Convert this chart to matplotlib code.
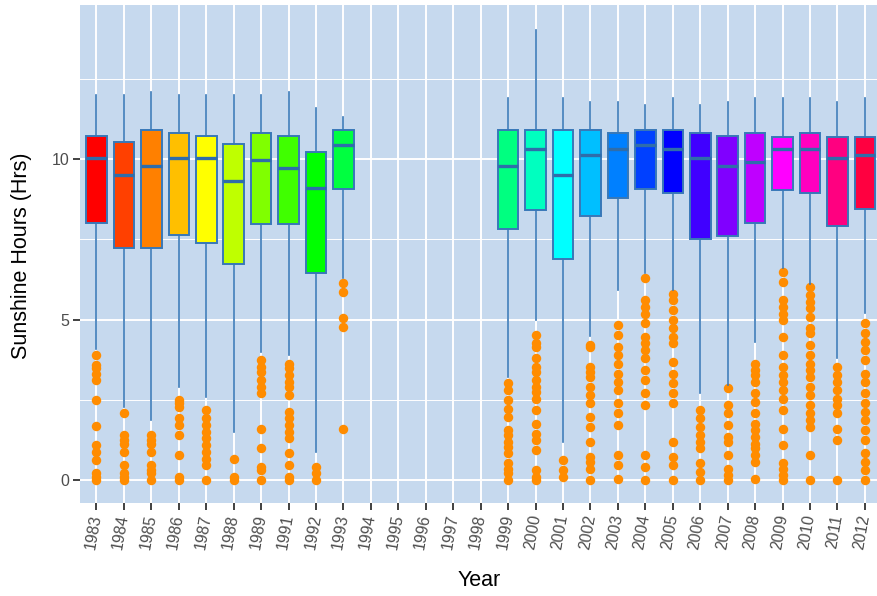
import matplotlib
matplotlib.use('Agg')
import matplotlib.pyplot as plt
import colorsys

plt.rcParams['font.family'] = ['Liberation Sans', 'DejaVu Sans']

# ---- data ----
years = ['1983', '1984', '1985', '1986', '1987', '1988', '1989', '1991', '1992', '1993',
         '1994', '1995', '1996', '1997', '1998', '1999', '2000', '2001', '2002', '2003',
         '2004', '2005', '2006', '2007', '2008', '2009', '2010', '2011', '2012']

box_years = ['1983', '1984', '1985', '1986', '1987', '1988', '1989', '1991', '1992', '1993',
             '1999', '2000', '2001', '2002', '2003', '2004', '2005', '2006', '2007', '2008',
             '2009', '2010', '2011', '2012']

whishi = [12.0, 12.0, 12.1, 12.0, 12.0, 12.0, 12.0, 12.1, 11.58, 11.3,
          11.89, 14.02, 11.89, 11.79, 11.79, 11.68, 11.89, 11.68, 11.79, 11.89,
          11.89, 11.89, 11.79, 11.89]
q3 = [10.72, 10.52, 10.92, 10.82, 10.72, 10.47, 10.82, 10.72, 10.22, 10.92,
      10.92, 10.92, 10.90, 10.90, 10.82, 10.90, 10.90, 10.82, 10.72, 10.82,
      10.70, 10.82, 10.70, 10.70]
med = [10.02, 9.52, 9.80, 10.02, 10.02, 9.32, 9.97, 9.71, 9.11, 10.43,
       9.80, 10.33, 9.52, 10.12, 10.31, 10.43, 10.33, 10.02, 9.80, 9.91,
       10.31, 10.33, 10.02, 10.12]
q1 = [8.02, 7.22, 7.22, 7.63, 7.40, 6.73, 7.98, 7.97, 6.45, 9.08,
      7.81, 8.41, 6.90, 8.23, 8.80, 9.08, 8.93, 7.50, 7.61, 8.02,
      9.03, 8.93, 7.92, 8.43]
whislo = [4.10, 2.28, 1.87, 2.90, 2.60, 1.51, 4.00, 3.89, 0.88, 6.30,
          3.22, 5.00, 1.20, 4.50, 5.92, 6.44, 5.92, 2.70, 2.96, 4.31,
          6.60, 6.10, 3.79, 5.21]
outliers = [
    [3.89, 3.58, 3.48, 3.32, 3.12, 2.49, 1.68, 1.09, 0.88, 0.62, 0.21, 0.1, 0.0],
    [2.08, 1.40, 1.25, 1.14, 0.88, 0.47, 0.21, 0.1, 0.0],
    [1.40, 1.25, 1.14, 0.88, 0.47, 0.31, 0.21, 0.0],
    [2.49, 2.39, 2.28, 1.92, 1.71, 1.40, 0.78, 0.1, 0.0],
    [2.18, 1.92, 1.71, 1.50, 1.30, 1.09, 0.88, 0.67, 0.47, 0.0],
    [0.67, 0.1, 0.0],
    [3.74, 3.53, 3.37, 3.12, 2.91, 2.70, 1.58, 0.99, 0.41, 0.31, 0.0],
    [3.63, 3.48, 3.27, 3.06, 2.91, 2.65, 2.13, 1.92, 1.71, 1.50, 1.30, 0.83, 0.47, 0.1, 0.0],
    [0.41, 0.21, 0.0],
    [6.13, 5.87, 5.04, 4.78, 1.58],
    [3.01, 2.80, 2.49, 2.23, 1.97, 1.56, 1.40, 1.19, 1.04, 0.83, 0.52, 0.36, 0.21, 0.0],
    [4.52, 4.26, 4.15, 3.79, 3.53, 3.37, 3.12, 2.91, 2.75, 2.54, 2.18, 1.76, 1.45, 1.25, 0.93, 0.31, 0.1, 0.0],
    [0.62, 0.31, 0.1],
    [4.21, 4.15, 3.53, 3.37, 3.22, 2.91, 2.65, 2.39, 1.97, 1.66, 1.19, 0.73, 0.57, 0.36, 0.0],
    [4.83, 4.52, 4.15, 3.89, 3.63, 3.32, 3.06, 2.80, 2.39, 2.08, 1.71, 0.78, 0.47, 0.05],
    [6.30, 5.61, 5.40, 5.19, 4.88, 4.46, 4.26, 4.05, 3.79, 3.43, 3.12, 2.70, 2.34, 0.78, 0.41, 0.0],
    [5.81, 5.61, 5.30, 4.98, 4.73, 4.46, 4.26, 3.69, 3.32, 3.01, 2.70, 2.39, 1.19, 0.73, 0.47, 0.0],
    [2.18, 1.92, 1.66, 1.40, 1.19, 0.99, 0.52, 0.26, 0.0],
    [2.86, 2.34, 2.08, 1.71, 1.35, 1.19, 0.78, 0.36, 0.15, 0.0],
    [3.63, 3.43, 3.27, 3.06, 2.70, 2.44, 2.08, 1.76, 1.56, 1.35, 1.14, 0.99, 0.78, 0.57, 0.05],
    [6.49, 6.18, 5.61, 5.40, 5.19, 4.98, 4.46, 3.89, 3.53, 3.27, 3.06, 2.80, 2.54, 2.18, 1.58, 1.09, 0.52, 0.36, 0.15, 0.0],
    [6.02, 5.76, 5.56, 5.35, 5.09, 4.73, 4.57, 4.21, 3.89, 3.63, 3.43, 3.22, 2.91, 2.65, 2.34, 2.08, 1.87, 1.66, 0.78, 0.0],
    [3.53, 3.27, 3.06, 2.80, 2.54, 2.34, 2.08, 1.58, 1.25, 0.0],
    [4.91, 4.57, 4.31, 4.05, 3.74, 3.32, 3.06, 2.70, 2.39, 2.13, 1.87, 1.56, 1.25, 0.83, 0.57, 0.31, 0.0],
]

y_ticks = [0, 5, 10]
y_minor = [2.5, 7.5, 12.5]

# ---- style ----
panel_bg = '#C6D9EE'
edge_col = '#3878B8'
median_col = '#2F6DAA'
outlier_col = '#FF8C00'
n = len(box_years)
fills = [colorsys.hsv_to_rgb(i / n, 1, 1) for i in range(n)]

fig = plt.figure(figsize=(8.77, 5.96), dpi=100)
ax = fig.add_axes([80 / 877, (596 - 502.6) / 596, 797 / 877, 497.6 / 596])
ax.set_facecolor(panel_bg)
ax.set_axisbelow(True)

stats = []
for i, yr in enumerate(box_years):
    stats.append(dict(label=yr, med=med[i], q1=q1[i], q3=q3[i],
                      whislo=whislo[i], whishi=whishi[i], fliers=outliers[i]))
positions = [years.index(yr) for yr in box_years]

bp = ax.bxp(stats, positions=positions, widths=0.75, patch_artist=True,
            showcaps=False, manage_ticks=False,
            boxprops=dict(edgecolor=edge_col, linewidth=1.4),
            medianprops=dict(color=median_col, linewidth=2.4, solid_capstyle='butt'),
            whiskerprops=dict(color=edge_col, linewidth=1.2),
            flierprops=dict(marker='o', markerfacecolor=outlier_col,
                            markeredgecolor='none', markersize=6.8))
for patch, c in zip(bp['boxes'], fills):
    patch.set_facecolor(c)
for fl in bp['fliers']:
    fl.set_zorder(1.5)

ax.set_xlim(-0.6, len(years) - 1 + 0.44)
ax.set_ylim(-0.70, 14.80)

ax.set_xticks(range(len(years)))
ax.set_xticklabels(years, rotation=80, ha='right', va='center',
                   rotation_mode='anchor', fontsize=11.3, color='#4D4D4D')
ax.set_yticks(y_ticks)
ax.set_yticklabels([str(v) for v in y_ticks], fontsize=11.5, color='#4D4D4D')
ax.set_yticks(y_minor, minor=True)

ax.tick_params(axis='both', which='major', length=5, width=1.3, color='#333333', pad=2.5)
ax.tick_params(axis='x', which='major', pad=3.5)
ax.tick_params(axis='y', which='minor', length=0)

ax.grid(True, which='major', color='white', linewidth=1.4)
ax.grid(True, which='minor', axis='y', color='white', linewidth=0.7)

for s in ax.spines.values():
    s.set_visible(False)

fig.text(22 / 877, 1 - 256 / 596, 'Sunshine Hours (Hrs)', rotation=90,
         ha='center', va='center', fontsize=15.5, color='black')
fig.text(479 / 877, 1 - 580 / 596, 'Year', ha='center', va='center',
         fontsize=15.5, color='black')

fig.savefig('out.png', dpi=100)
